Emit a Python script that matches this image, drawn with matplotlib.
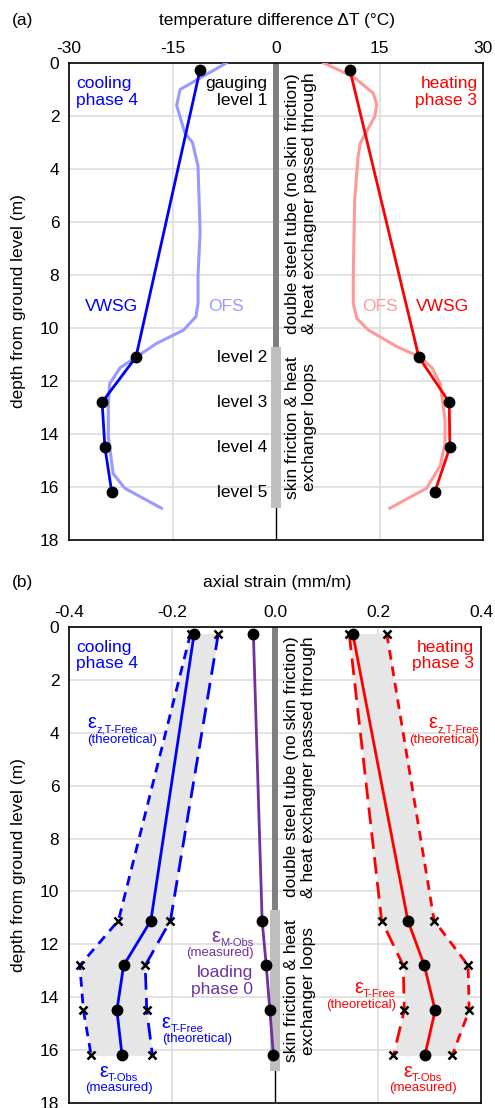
import matplotlib.pyplot as plt
import numpy as np

plt.rcParams['font.family'] = ['Liberation Sans', 'DejaVu Sans']
fs = 12.5

# gauge depths (m)
gauge_depth = [0.25, 11.1, 12.8, 14.5, 16.2]
gauge_names = ['gauging\nlevel 1', 'level 2', 'level 3', 'level 4', 'level 5']

# (a) temperature change, VWSG gauges
vwsg_cool = [-11.0, -20.3, -25.2, -24.8, -23.8]
vwsg_heat = [10.7, 20.7, 25.1, 25.2, 23.0]

# (a) fibre optic profiles
ofs_cool_depth = [0.0, 1.0, 1.6, 2.65, 3.0, 3.9, 6.4, 8.0, 9.07, 9.57, 10.08, 10.58, 11.0,
                  11.5, 12.1, 12.8, 14.1, 15.5, 16.05, 16.8]
ofs_cool = [-7.2, -13.9, -14.4, -13.2, -12.1, -11.3, -11.0, -11.3, -11.3, -11.6, -13.4,
            -17.3, -19.7, -22.6, -24.1, -24.3, -24.3, -23.6, -21.9, -16.6]
ofs_heat_depth = [0.0, 0.52, 1.14, 1.58, 2.03, 3.03, 3.53, 5.17, 8.0, 9.07, 9.63, 10.08,
                  10.7, 11.1, 11.5, 12.1, 13.47, 14.35, 15.2, 16.05, 16.8]
ofs_heat = [6.9, 11.2, 14.1, 14.6, 14.3, 12.2, 11.9, 11.4, 11.2, 11.2, 11.7, 13.4,
            17.5, 20.9, 22.6, 23.8, 24.5, 24.5, 23.8, 21.8, 16.5]

# (b) axial strain (mm/m)
obs_cool = [-0.157, -0.241, -0.294, -0.307, -0.297]
free_cool_lo = [-0.164, -0.304, -0.379, -0.372, -0.357]
free_cool_hi = [-0.110, -0.203, -0.252, -0.249, -0.238]
obs_heat = [0.151, 0.258, 0.290, 0.311, 0.291]
free_heat_lo = [0.144, 0.207, 0.249, 0.251, 0.230]
free_heat_hi = [0.217, 0.309, 0.375, 0.377, 0.344]
obs_load = [-0.042, -0.025, -0.017, -0.010, -0.003]

blue = '#0000FF'
red = '#FF0000'
purple = '#7030A0'
lblue = '#9999FF'
lred = '#FF9999'
gridc = '#DDDDDD'

fig = plt.figure(figsize=(4.95, 11.08), dpi=100)
ax1 = fig.add_axes([69/495, 1-540/1108, 414/495, 477/1108])
ax2 = fig.add_axes([69/495, 1-1103/1108, 412/495, 476/1108])
renderer = fig.canvas.get_renderer()


def setup(ax, xlim, xticks, xticklabels):
    ax.set_xlim(*xlim)
    ax.set_ylim(18, 0)
    ax.xaxis.tick_top()
    ax.set_xticks(xticks)
    ax.set_xticklabels(xticklabels)
    ax.set_yticks(np.arange(0, 19, 2))
    ax.tick_params(length=0, labelsize=fs)
    ax.tick_params(axis='x', pad=5)
    ax.tick_params(axis='y', pad=7)
    for s in ax.spines.values():
        s.set_linewidth(1.2)
    for y in range(2, 18, 2):
        ax.axhline(y, color=gridc, lw=1.2, zorder=0)
    ax.axvline(xticks[1], color=gridc, lw=1.2, zorder=0)
    ax.axvline(xticks[3], color=gridc, lw=1.2, zorder=0)
    ax.axvline(0, color='black', lw=1.0, zorder=1)
    ax.set_ylabel('depth from ground level (m)', fontsize=fs, labelpad=10)


def tube(ax, xtxt):
    # pile section markers along the centre
    ax.plot([0, 0], [0, 10.7], color='#808080', lw=4.3, solid_capstyle='butt', zorder=2)
    ax.plot([0, 0], [10.7, 16.8], color='#BFBFBF', lw=7.2, solid_capstyle='butt', zorder=2)
    ax.text(xtxt, 5.3, 'double steel tube (no skin friction)\n& heat exchagner passed through',
            rotation=90, ha='center', va='center', fontsize=fs, linespacing=1.15)
    ax.text(xtxt, 13.75, 'skin friction & heat\nexchanger loops',
            rotation=90, ha='center', va='center', fontsize=fs, linespacing=1.15)


def text_width_pt(s, size):
    t = fig.text(0, 0, s, fontsize=size)
    w = t.get_window_extent(renderer).width * 72 / fig.dpi
    t.remove()
    return w


def eps_label(ax, x, y, sub, note, color, ha, efs=14.5, sfs=8, nfs=9.5):
    # epsilon with a small subscript, plus a note line underneath
    we = text_width_pt('ε', efs)
    ws = text_width_pt(sub, sfs)
    x0 = {'left': 0, 'center': -(we + ws) / 2, 'right': -(we + ws)}[ha]
    ax.annotate('ε', (x, y), xytext=(x0, 0), textcoords='offset points',
                ha='left', va='baseline', fontsize=efs, color=color)
    ax.annotate(sub, (x, y), xytext=(x0 + we, -3), textcoords='offset points',
                ha='left', va='baseline', fontsize=sfs, color=color)
    ax.text(x, y + 0.44, note, color=color, ha=ha, va='center', fontsize=nfs)


# ---------------- (a) ----------------
setup(ax1, (-30, 30), [-30, -15, 0, 15, 30], ['-30', '-15', '0', '15', '30'])
tube(ax1, 3.6)
ax1.plot(ofs_cool, ofs_cool_depth, color=lblue, lw=2.2, zorder=3)
ax1.plot(ofs_heat, ofs_heat_depth, color=lred, lw=2.2, zorder=3)
ax1.plot(vwsg_cool, gauge_depth, color=blue, lw=2.0, zorder=4)
ax1.plot(vwsg_heat, gauge_depth, color=red, lw=2.0, zorder=4)
ax1.plot(vwsg_cool, gauge_depth, 'o', color='black', ms=7.5, zorder=5)
ax1.plot(vwsg_heat, gauge_depth, 'o', color='black', ms=7.5, zorder=5)

for name, d in zip(gauge_names, gauge_depth):
    dd = 1.08 if d < 1 else d
    ax1.text(-1.3, dd, name, ha='right', va='center', fontsize=fs, linespacing=1.15)

ax1.text(-29.0, 1.08, 'cooling\nphase 4', color=blue, ha='left', va='center',
         fontsize=fs, linespacing=1.15)
ax1.text(29.2, 1.08, 'heating\nphase 3', color=red, ha='right', va='center',
         fontsize=fs, linespacing=1.15, multialignment='right')
ax1.text(-23.8, 9.2, 'VWSG', color=blue, ha='center', va='center', fontsize=fs)
ax1.text(-7.3, 9.2, 'OFS', color=lblue, ha='center', va='center', fontsize=fs)
ax1.text(15.1, 9.2, 'OFS', color=lred, ha='center', va='center', fontsize=fs)
ax1.text(24.1, 9.2, 'VWSG', color=red, ha='center', va='center', fontsize=fs)

fig.text(12/495, 1-20/1108, '(a)', ha='left', va='center', fontsize=fs)
fig.text(277/495, 1-20/1108, 'temperature difference ΔT (°C)', ha='center', va='center', fontsize=fs)

# ---------------- (b) ----------------
setup(ax2, (-0.4, 0.4), [-0.4, -0.2, 0.0, 0.2, 0.4], ['-0.4', '-0.2', '0.0', '0.2', '0.4'])
tube(ax2, 0.049)

ax2.fill_betweenx(gauge_depth, free_cool_lo, free_cool_hi, color='#E6E6E6', lw=0, zorder=1)
ax2.fill_betweenx(gauge_depth, free_heat_lo, free_heat_hi, color='#E6E6E6', lw=0, zorder=1)

ax2.plot(free_cool_lo, gauge_depth, color=blue, lw=2.0, dashes=(3.5, 2.5), zorder=3)
ax2.plot(free_cool_hi, gauge_depth, color=blue, lw=2.0, dashes=(6, 3), zorder=3)
ax2.plot(free_heat_lo, gauge_depth, color=red, lw=2.0, dashes=(6, 3), zorder=3)
ax2.plot(free_heat_hi, gauge_depth, color=red, lw=2.0, dashes=(3.5, 2.5), zorder=3)
for xs in (free_cool_lo, free_cool_hi, free_heat_lo, free_heat_hi):
    ax2.plot(xs, gauge_depth, 'x', color='black', ms=6, mew=1.8, zorder=5)

ax2.plot(obs_cool, gauge_depth, color=blue, lw=2.0, zorder=4)
ax2.plot(obs_heat, gauge_depth, color=red, lw=2.0, zorder=4)
ax2.plot(obs_load, gauge_depth, color=purple, lw=2.0, zorder=4)
for xs in (obs_cool, obs_heat, obs_load):
    ax2.plot(xs, gauge_depth, 'o', color='black', ms=7.5, zorder=6)

ax2.text(-0.386, 1.08, 'cooling\nphase 4', color=blue, ha='left', va='center',
         fontsize=fs, linespacing=1.15)
ax2.text(0.387, 1.08, 'heating\nphase 3', color=red, ha='right', va='center',
         fontsize=fs, linespacing=1.15, multialignment='right')

eps_label(ax2, -0.364, 3.83, 'z,T-Free', '(theoretical)', blue, 'left')
eps_label(ax2, 0.396, 3.83, 'z,T-Free', '(theoretical)', red, 'right')
eps_label(ax2, -0.220, 15.15, 'T-Free', '(theoretical)', blue, 'left')
eps_label(ax2, 0.235, 13.85, 'T-Free', '(theoretical)', red, 'right')
eps_label(ax2, -0.304, 17.0, 'T-Obs', '(measured)', blue, 'center')
eps_label(ax2, 0.287, 17.0, 'T-Obs', '(measured)', red, 'center')
eps_label(ax2, -0.042, 11.9, 'M-Obs', '(measured)', purple, 'right')
ax2.text(-0.042, 13.4, 'loading\nphase 0', color=purple, ha='right', va='center',
         fontsize=fs, linespacing=1.15, multialignment='right')

fig.text(12/495, 1-583/1108, '(b)', ha='left', va='center', fontsize=fs)
fig.text(277/495, 1-583/1108, 'axial strain (mm/m)', ha='center', va='center', fontsize=fs)

fig.savefig('out.png', dpi=100)
